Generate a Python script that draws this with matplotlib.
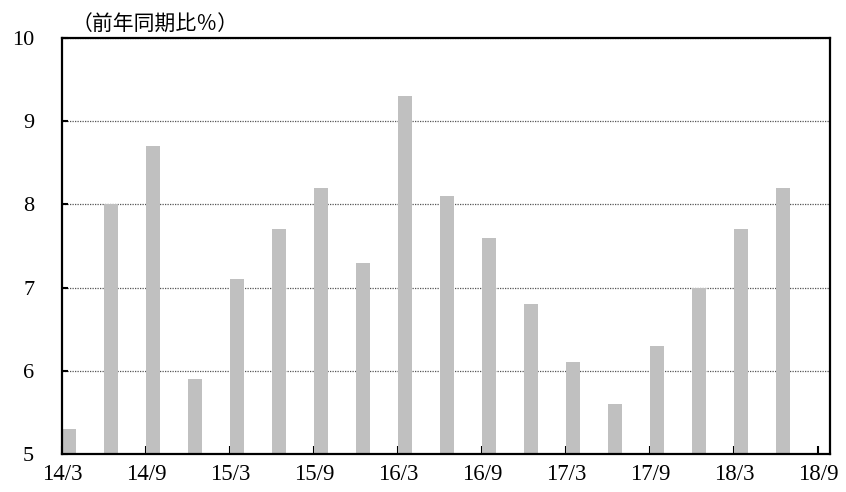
import matplotlib.pyplot as plt

# quarterly data, year-on-year %
quarters = ["14/3", "14/6", "14/9", "14/12", "15/3", "15/6", "15/9", "15/12",
            "16/3", "16/6", "16/9", "16/12", "17/3", "17/6", "17/9", "17/12",
            "18/3", "18/6"]
values = [5.3, 8.0, 8.7, 5.9, 7.1, 7.7, 8.2, 7.3,
          9.3, 8.1, 7.6, 6.8, 6.1, 5.6, 6.3, 7.0,
          7.7, 8.2]
tick_labels = ["14/3", "14/9", "15/3", "15/9", "16/3", "16/9",
               "17/3", "17/9", "18/3", "18/9"]

serif = ["Liberation Serif", "DejaVu Serif"]
jp = ["Noto Sans CJK JP", "DejaVu Sans"]

fig = plt.figure(figsize=(8.46, 4.92), dpi=100)
ax = fig.add_axes([0.0733, 0.0772, 0.908, 0.8456])

x = list(range(len(quarters)))
ax.bar(x, values, width=0.33, align="edge", bottom=0,
       color="#c0c0c0", zorder=2)

ax.set_ylim(5, 10)
ax.set_xlim(0, 18.29)
ax.set_yticks([5, 6, 7, 8, 9, 10])
ax.set_yticklabels(["5", "6", "7", "8", "9", "10"], fontfamily=serif, fontsize=16)
ax.set_xticks(list(range(0, 20, 2)))
ax.set_xticklabels(tick_labels, fontfamily=serif, fontsize=16.5)

ax.grid(axis="y", color="#555555", linestyle=(0, (1, 1)), linewidth=0.9, zorder=1)
ax.tick_params(axis="x", direction="in", length=6, width=1.5, pad=7)
ax.tick_params(axis="y", direction="in", length=4, width=1.5, pad=20)
for lbl in ax.get_yticklabels():
    lbl.set_horizontalalignment("right")

for side in ["left", "right", "top", "bottom"]:
    ax.spines[side].set_linewidth(1.6)
    ax.spines[side].set_color("black")

fig.text(0.084, 0.95, "（前年同期比％）", fontfamily=jp, fontsize=15,
         ha="left", va="center")

fig.savefig("out.png", dpi=100)
